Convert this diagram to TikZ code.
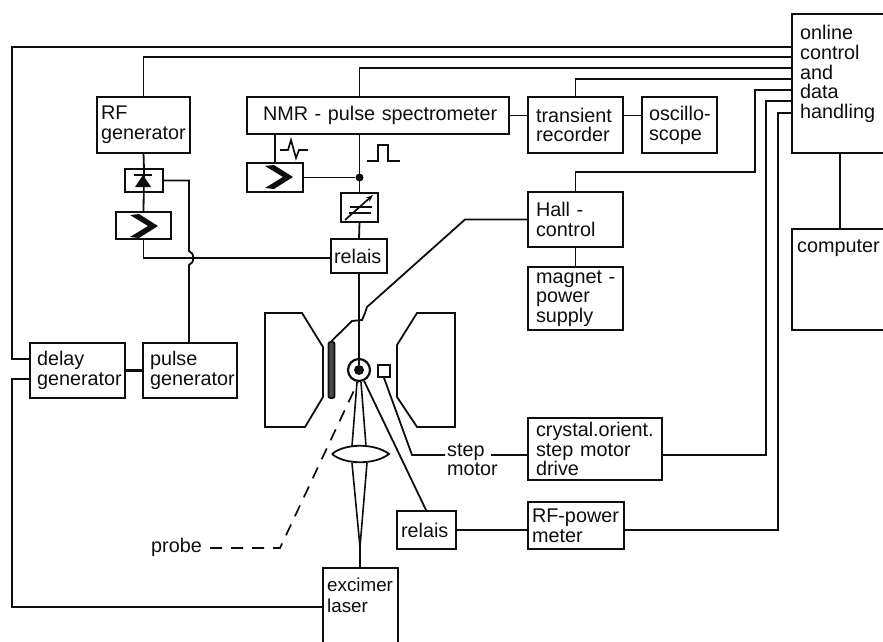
\documentclass[tikz,border=0pt]{standalone}
\usepackage{fontspec}
\setmainfont{Liberation Sans}
\usetikzlibrary{arrows.meta}
\definecolor{scanink}{HTML}{0E0E0E}
\newcommand{\ampsign}[1]{\fill[scanink, shift={(#1)}] (-28,-11) -- (-19,-12) -- (0,0) -- (-19,12) -- (-28,11) -- (-10,0) -- cycle;}

\begin{document}
\begin{tikzpicture}[
  x=1pt,
  y=-1pt,
  every node/.style={font=\fontsize{19.8}{19.8}\selectfont, scanink},
  box/.style={draw=scanink, line width=2.2pt, anchor=north west, outer sep=0pt,
              inner xsep=8pt, inner ysep=0pt, align=left},
  tightbox/.style={box, inner xsep=4pt},
  blank/.style={draw=scanink, line width=2.2pt, anchor=north west, outer sep=0pt, inner sep=0pt},
  boxtext/.style={anchor=north west, inner sep=0pt, align=left},
  wire/.style={scanink, line width=1.8pt},
  pole/.style={scanink, line width=1.8pt},
  icon/.style={scanink, line width=1.7pt},
  beam/.style={scanink, line width=1.6pt},
  probewire/.style={scanink, line width=1.7pt, dash pattern=on 12pt off 9pt}
]
  \useasboundingbox (0,0) rectangle (883,642);

  % ---- online unit, its text is set apart since it sits at the top ----
  \node[blank, minimum width=120pt, minimum height=139pt] (online) at (792,14) {};
  \node[boxtext] (onlinetext) at (800,25) {online\\control\\and\\data\\handling};
  \node[blank, minimum width=120pt, minimum height=101pt] (computer) at (792,229) {};
  \node[boxtext] (computertext) at (797,239) {computer};
  \coordinate (cpulink) at (840,190);
  \draw[wire] (cpulink |- online.south) -- (cpulink |- computer.north);

  % ---- entry points on the online unit ----
  \foreach \y in {47,57,68,79,90,101,113}
    \coordinate (in\y) at (792,\y);

  % ---- top row ----
  \node[tightbox, text width=85pt, minimum height=56pt] (rfgen) at (97,97) {RF\\generator};
  \node[box, text width=246pt, minimum height=37pt] (nmr) at (247,97) {\hspace*{8pt}NMR - pulse spectrometer};
  \node[box, text width=79pt, minimum height=56pt] (transient) at (528,97) {transient\\recorder};
  \node[box, inner xsep=7pt, text width=61pt, minimum height=56pt] (osc) at (642,97) {\mbox{oscillo-}\\scope};
  \draw[wire] (nmr.east) -- (nmr.east -| transient.west);
  \draw[wire] (transient.east |- nmr.east) -- (osc.west |- nmr.east);

  % ---- RF chain on the left ----
  \node[blank, minimum width=38pt, minimum height=23pt] (diode) at (125,169) {};
  \node[blank, minimum width=55pt, minimum height=27pt] (ampb) at (116,212) {};
  \draw[wire] (rfgen.south) -- (diode.north);
  \draw[wire] (diode.north) -- (ampb.north);
  \fill[scanink] (143,175) -- (135,187) -- (151,187) -- cycle;
  \draw[icon] (134,175) -- (152,175);
  \ampsign{158,226}

  % ---- NMR receive and transmit paths ----
  \node[blank, minimum width=56pt, minimum height=29pt] (ampa) at (247,163) {};
  \node[blank, minimum width=37pt, minimum height=29pt] (atten) at (341,193) {};
  \node[tightbox, inner xsep=3pt, text width=50pt, minimum height=34pt] (relaisa) at (331,239) {relais};
  \node[circle, fill=scanink, inner sep=0pt, minimum size=8pt] (junction) at (atten.north |- ampa.east) {};
  \ampsign{293,177}
  \draw[wire] (ampa.north |- nmr.south) -- (ampa.north);
  \draw[wire] (ampa.east) -- (junction);
  \draw[wire] (nmr.south -| atten.north) -- (atten.north);
  \draw[wire] (atten.south) -- (relaisa.north);
  \draw[icon] (350,207) -- (372,207);
  \draw[icon] (349,213) -- (371,213);
  \draw[icon, -{Stealth[length=7pt]}] (345,220) -- (373,195);
  \draw[icon] (280,150) -- (288,150) -- (291,140) -- (296,158) -- (299,150) -- (308,150);
  \draw[icon] (367,161) -- (378,161) -- (378,145) -- (388,145) -- (388,161) -- (400,161);

  % ---- Hall control ----
  \node[box, text width=79pt, minimum height=55pt] (hall) at (528,192) {Hall -\\control};
  \node[box, text width=79pt, minimum height=63pt] (magnet) at (528,267) {\mbox{magnet -}\\power\\supply};
  \draw[wire] (hall.south) -- (magnet.north);

  % ---- magnet poles ----
  \draw[pole] (265,313) -- (302,313) -- (323,347) -- (323,397) -- (305,427) -- (265,427) -- cycle;
  \draw[pole] (455,313) -- (417,313) -- (397,345) -- (397,397) -- (417,427) -- (455,427) -- cycle;

  % ---- sample region ----
  \node[draw=scanink, line width=1.8pt, fill=scanink!75, rounded corners=2pt, inner sep=0pt,
        minimum width=6pt, minimum height=56pt] (hallprobe) at (331.5,370) {};
  \node[circle, draw=scanink, line width=2.2pt, inner sep=0pt, minimum size=22pt] (crystal) at (359,370) {};
  \node[circle, fill=scanink, inner sep=0pt, minimum size=10pt] (sample) at (359,370) {};
  \node[draw=scanink, line width=1.8pt, inner sep=0pt, minimum size=12pt] (stepbox) at (384,371) {};
  \draw[wire] (relaisa.south) -- (sample);
  \draw[wire] (hall.west) -- (465,219.5) -- (367,307) -- (365,313) -- (362,320) -- (352,321) -- (hallprobe.north);

  % ---- lens and laser beam ----
  \node[blank, minimum width=75pt, minimum height=82pt] (excimer) at (323,568) {};
  \node[boxtext, font=\fontsize{18.8}{20.5}\selectfont] (excimertext) at (327,578) {excimer\\laser};
  \coordinate (focus) at (360,547);
  \draw[pole, fill=white] (332,454) .. controls (345,443) and (375,443) .. (389,454)
    .. controls (375,465) and (345,465) .. (332,454);
  \draw[beam] (352,446) -- (357,382);
  \draw[beam] (366,446) -- (361,382);
  \draw[beam] (352,463) -- (focus);
  \draw[beam] (367,463) -- (focus);
  \draw[beam] (focus) -- (focus |- excimer.north);

  % ---- probe label ----
  \node[anchor=east, inner sep=0pt] (probe) at (202,547) {probe};
  \draw[probewire] (210,548) -- (280,548) -- (crystal.-95);

  % ---- lower right row ----
  \node[box, text width=118pt, minimum height=62pt] (orient) at (528,418) {crystal.orient.\\step motor\\drive};
  \node[tightbox, text width=88pt, minimum height=47pt] (rfmeter) at (528,502) {RF-power\\meter};
  \node[tightbox, text width=51pt, minimum height=38pt] (relaisb) at (397,511) {relais};
  \node[boxtext] (stepmotor) at (447,443) {step\\motor};
  \coordinate (steptap) at (491,455);
  \draw[wire] (stepbox.south) -- (412,455) -- (445,455);
  \draw[wire] (steptap) -- (steptap -| orient.west);
  \draw[wire] (crystal.-65) -- (relaisb.north);
  \draw[wire] (relaisb.east) -- (relaisb.east -| rfmeter.west);

  % ---- lower left row ----
  \node[box, inner xsep=7pt, text width=81pt, minimum height=55pt] (delay) at (30,343) {delay\\generator};
  \node[box, inner xsep=7pt, text width=80pt, minimum height=55pt] (pulsegen) at (143,343) {pulse\\generator};
  \coordinate (delayin) at (30,359);
  \coordinate (delayout) at (30,379);
  \draw[wire, line width=2.4pt] (delay.east) -- (pulsegen.west);
  \draw[wire] (diode.east) -- (189,180.5) -- (189,251) .. controls (195,253) and (195,263) .. (189,265)
    -- (189,343);
  \draw[wire] (ampb.south) |- ([yshift=-2pt]relaisa.west);

  % ---- lines to the online unit ----
  \draw[wire] (in47) -- (12,47) |- (delayin);
  \draw[wire] (delayout) -- (12,379) |- (excimer.west |- 0,607);
  \draw[wire] (in57) -| (rfgen.north);
  \draw[wire] (in68) -| (nmr.north -| atten.north);
  \draw[wire] (in79) -| (transient.north);
  \draw[wire] (in90) -| (755,172) -| (hall.north);
  \draw[wire] (in101) -| (766,455) -- (orient.east |- steptap);
  \draw[wire] (in113) -| (778,530) -- (rfmeter.east |- relaisb.east);
\end{tikzpicture}
\end{document}
